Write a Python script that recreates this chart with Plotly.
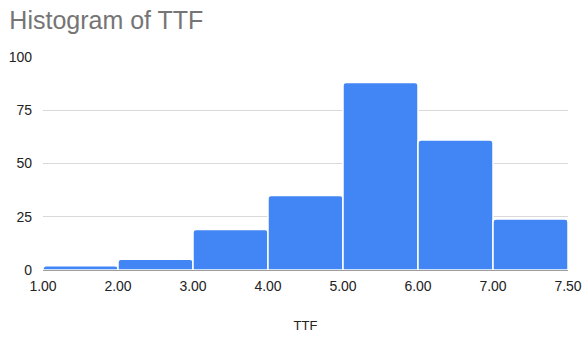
import plotly.graph_objects as go

# Histogram bucket edges and counts per bucket
bin_edges = ["1.00", "2.00", "3.00", "4.00", "5.00", "6.00", "7.00", "7.50"]
counts = [2, 5, 19, 35, 88, 61, 24]
y_ticks = [0, 25, 50, 75, 100]

# Buckets are drawn with equal width; edge positions are 0..n on the x axis
n = len(counts)
centers = [i + 0.5 for i in range(n)]

fig = go.Figure(
    go.Bar(
        x=centers,
        y=counts,
        width=1,
        marker=dict(color="#4285F4", line=dict(color="white", width=1.5), cornerradius=3),
        hoverinfo="y",
    )
)

fig.update_layout(
    width=584,
    height=337,
    margin=dict(l=43, r=16, t=57, b=67, autoexpand=False),
    paper_bgcolor="white",
    plot_bgcolor="white",
    showlegend=False,
    font=dict(family="Arial, Liberation Sans, sans-serif", size=14, color="#222222"),
    title=dict(
        text="Histogram of TTF",
        x=0.016,
        xanchor="left",
        y=0.94,
        yanchor="middle",
        font=dict(size=25, color="#757575"),
    ),
)

fig.update_xaxes(
    range=[0, n],
    tickmode="array",
    tickvals=list(range(n + 1)),
    ticktext=bin_edges,
    showgrid=False,
    zeroline=False,
    showline=False,
    ticks="",
    automargin=False,
    ticklabelstandoff=6,
    title=dict(text="TTF", font=dict(size=13, color="#222222"), standoff=27),
)

fig.update_yaxes(
    range=[0, 100],
    tickvals=y_ticks,
    showgrid=True,
    gridcolor="#d9d9d9",
    gridwidth=1,
    zeroline=True,
    zerolinecolor="#9e9e9e",
    zerolinewidth=1,
    ticks="",
    automargin=False,
    ticklabelstandoff=10,
)

fig.write_html("out.html")
